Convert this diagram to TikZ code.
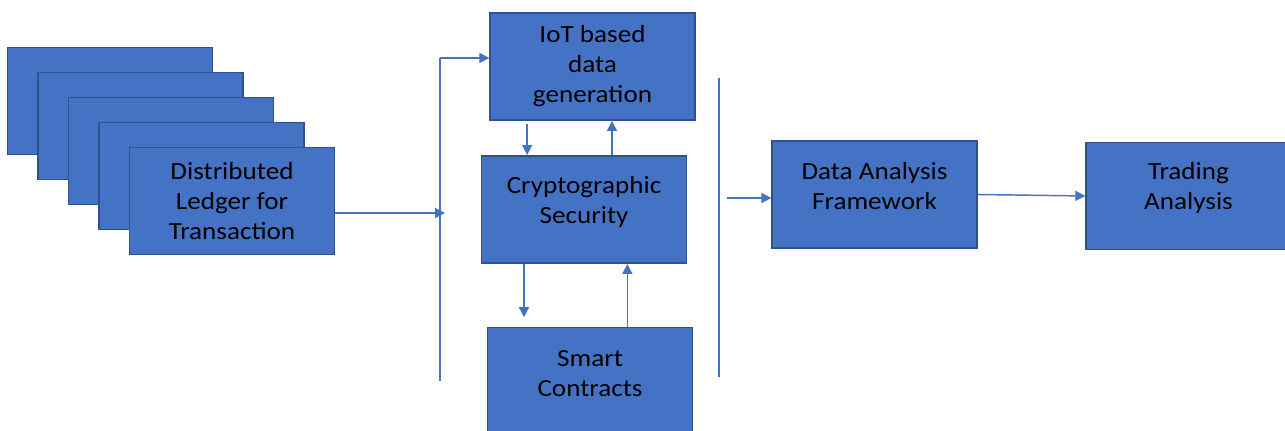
\documentclass[tikz,border=0pt]{standalone}
\usepackage{fontspec}
\setmainfont{Carlito}
\newfontfamily\boxfont[FakeStretch=1.1]{Carlito}
\usetikzlibrary{arrows.meta, calc}
\definecolor{boxblue}{RGB}{68,114,196}
\definecolor{boxedge}{RGB}{47,82,143}

\begin{document}
\begin{tikzpicture}[
        x=0.75pt, y=-0.75pt,
        box/.style={rectangle, draw=boxedge, fill=boxblue, line width=1.2pt, minimum width=153.5pt, minimum height=80.5pt, inner sep=0pt, align=center, font=\boxfont\fontsize{18.5}{22.5}\selectfont},
        boxlabel/.style={align=center, inner sep=0pt, yshift=6pt, font=\boxfont\fontsize{18.5}{22.5}\selectfont},
        arrow/.style={-{Triangle[length=7.5pt, width=7.5pt]}, draw=boxblue, line width=1.1pt},
        divider/.style={draw=boxblue, line width=1pt}
    ]
        \useasboundingbox (0,0) rectangle (1285,431);

        % Ledger copies stacked behind the front sheet
        \foreach \k in {0,...,3}
            \node[box] (sheet\k) at (110+30.5*\k, 101+25*\k) {};
        \node[box] (ledger) at (232,201) {Distributed\\Ledger for\\Transaction};

        % Middle column
        \node[box] (iot) at (592.5,66.5) {IoT based\\data\\generation};
        \node[box, label={[boxlabel]center:{Cryptographic\\Security}}] (crypto) at (584,209.5) {};
        \node[box, label={[boxlabel, yshift=0pt]center:{Smart\\Contracts}}, minimum height=82pt] (smart) at (590,382) {};

        % Right side
        \node[box, label={[boxlabel]center:{Data Analysis\\Framework}}] (data) at (874.5,194.5) {};
        \node[box, label={[boxlabel]center:{Trading\\Analysis}}] (trading) at (1188.5,196) {};

        % Divider lines
        \coordinate (splittop) at (440,58);
        \coordinate (splitbot) at (440,381);
        \coordinate (splitin) at (445,213);
        \coordinate (mergetop) at (719,78);
        \coordinate (mergebot) at (719,377);
        \coordinate (mergeout) at (727,198);
        \draw[divider] (splittop) -- (splitbot);
        \draw[divider] (mergetop) -- (mergebot);

        % Arrows
        \draw[arrow] (ledger.east |- splitin) -- (splitin);
        \draw[arrow] (splittop) -- (splittop -| iot.west);
        \draw[arrow] ([xshift=-49pt, yshift=-2pt]iot.south) -- ([xshift=-49pt]iot.south |- crypto.north);
        \draw[arrow] ([xshift=21pt]crypto.north) -- ([xshift=21pt]crypto.north |- iot.south);
        \draw[arrow] ([xshift=-45pt]crypto.south) -- ([xshift=-45pt, yshift=7pt]crypto.south |- smart.north);
        \draw[arrow] ([xshift=28pt]smart.north) -- ([xshift=28pt]smart.north |- crypto.south);
        \draw[arrow] (mergeout) -- (mergeout -| data.west);
        \draw[arrow] (data.east) -- (trading.west);
    \end{tikzpicture}
\end{document}
